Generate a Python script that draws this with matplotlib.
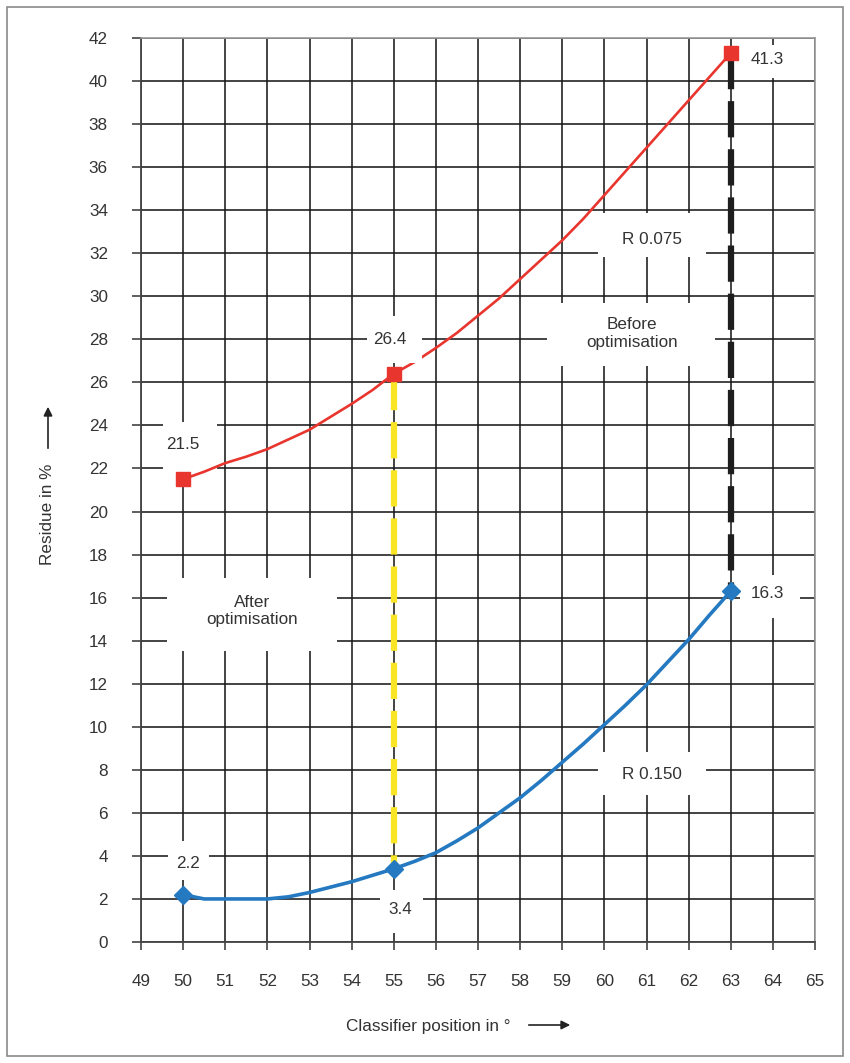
import matplotlib
matplotlib.use("Agg")
import matplotlib.pyplot as plt
from matplotlib.patches import Rectangle, FancyArrowPatch

plt.rcParams['font.family'] = ['Liberation Sans', 'DejaVu Sans']

# Data
x_before = [50, 50.5, 51, 51.5, 52, 52.5, 53, 53.5, 54, 54.5, 55, 55.5, 56, 56.5, 57,
            57.5, 58, 58.5, 59, 59.5, 60, 60.5, 61, 61.5, 62, 62.5, 63]
y_before = [21.5, 21.85, 22.25, 22.55, 22.9, 23.35, 23.8, 24.4, 25.0, 25.65, 26.4, 26.95,
            27.6, 28.3, 29.1, 29.9, 30.8, 31.7, 32.6, 33.6, 34.7, 35.8, 36.9, 38.0, 39.1, 40.2, 41.3]
x_after = [50, 50.5, 51, 51.5, 52, 52.5, 53, 53.5, 54, 54.5, 55, 55.5, 56, 56.5, 57,
           57.5, 58, 58.5, 59, 59.5, 60, 60.5, 61, 61.5, 62, 62.5, 63]
y_after = [2.2, 2.0, 2.0, 2.0, 2.0, 2.1, 2.3, 2.55, 2.8, 3.1, 3.4, 3.75, 4.15, 4.7, 5.3,
           6.0, 6.7, 7.5, 8.35, 9.2, 10.1, 11.0, 11.95, 13.0, 14.05, 15.2, 16.3]
marker_x_before = [50, 55, 63]
marker_y_before = [21.5, 26.4, 41.3]
marker_x_after = [50, 55, 63]
marker_y_after = [2.2, 3.4, 16.3]
x_ticks = list(range(49, 66))
y_ticks = list(range(0, 43, 2))

# annotation texts: (text, x, y, box x0, box x1, box y0, box y1, covers curve)
annotations = [
    ('21.5', 50.0, 23.13, 49.52, 50.80, 21.84, 24.16, False),
    ('2.2', 50.12, 3.67, 49.64, 50.62, 2.88, 4.69, False),
    ('41.3', 63.86, 40.98, 63.21, 64.52, 40.14, 41.67, False),
    ('16.3', 63.86, 16.21, 63.21, 64.65, 15.05, 17.05, False),
    ('R 0.075', 61.13, 32.66, 59.85, 62.41, 31.82, 33.86, False),
    ('R 0.150', 61.13, 7.76, 59.85, 62.41, 6.83, 8.83, False),
    ('Before\noptimisation', 60.65, 28.27, 58.64, 62.63, 26.76, 29.69, False),
    ('After\noptimisation', 51.63, 15.39, 49.62, 53.65, 13.52, 16.91, False),
    ('26.4', 54.9, 28.0, 54.37, 55.67, 26.9, 29.08, True),
    ('3.4', 55.15, 1.53, 54.67, 55.69, 0.42, 2.42, False),
]

RED = '#e8352e'
BLUE = '#2479c0'
YELLOW = '#f9e526'
TXT = '#333333'
FS = 12.3

fig = plt.figure(figsize=(8.5, 10.63), dpi=100)
# outer frame
fig.patches.append(Rectangle((7/850, 1 - 1056/1063), 836/850, 1049/1063,
                             transform=fig.transFigure, fill=False,
                             edgecolor='#8a8a8a', linewidth=1.2))

ax = fig.add_axes([141/850, 1 - 942/1063, 674/850, 904/1063])
ax.set_xlim(49, 65)
ax.set_ylim(0, 42)
ax.set_xticks(x_ticks)
ax.set_yticks(y_ticks)
ax.grid(True, color='#1a1a1a', linewidth=1.15, zorder=1)
ax.set_axisbelow(True)
ax.tick_params(axis='both', direction='out', color='#333333', width=1.1,
               labelsize=FS, labelcolor=TXT)
ax.tick_params(axis='y', length=6.5, pad=17.3)
ax.tick_params(axis='x', length=5.8, pad=17.5)
for s in ['top', 'right']:
    ax.spines[s].set_color('#999999')
    ax.spines[s].set_linewidth(1.2)
for s in ['left', 'bottom']:
    ax.spines[s].set_color('#444444')
    ax.spines[s].set_linewidth(1.3)

# vertical dashed connectors (drawn from top downward)
ax.plot([55, 55], [26.4, 3.4], color=YELLOW, linewidth=4.5, dashes=(5.8, 1.9), zorder=3,
        dash_capstyle='butt')
ax.plot([63, 63], [41.3, 16.3], color='#1e1e1e', linewidth=4.5, dashes=(5.8, 1.9), zorder=3,
        dash_capstyle='butt')

# curves
ax.plot(x_before, y_before, color=RED, linewidth=1.9, zorder=4)
ax.plot(x_after, y_after, color=BLUE, linewidth=2.6, zorder=4)
ax.plot(marker_x_before, marker_y_before, linestyle='none', marker='s', markersize=9.4,
        color=RED, zorder=6)
ax.plot(marker_x_after, marker_y_after, linestyle='none', marker='D', markersize=9.5,
        color=BLUE, zorder=6)

for s, tx, ty, bx0, bx1, by0, by1, covers in annotations:
    ax.add_patch(Rectangle((bx0, by0), bx1 - bx0, by1 - by0, facecolor='white',
                           edgecolor='none', zorder=4.5 if covers else 2))
    ax.text(tx, ty, s, ha='center', va='center', fontsize=FS, color=TXT, zorder=7,
            linespacing=1.2)

# axis labels with arrows
fig.text(48/850, 1 - 514/1063, 'Residue in %', rotation=90, ha='center', va='center',
         fontsize=FS, color=TXT)
fig.patches.append(FancyArrowPatch((48/850, 1 - 451/1063), (48/850, 1 - 404/1063),
                                   transform=fig.transFigure, arrowstyle='-|>',
                                   mutation_scale=13, color='#222222', linewidth=1.2))
fig.text(428/850, 1 - 1027/1063, 'Classifier position in °', ha='center', va='center',
         fontsize=FS, color=TXT)
fig.patches.append(FancyArrowPatch((526/850, 1 - 1025/1063), (573/850, 1 - 1025/1063),
                                   transform=fig.transFigure, arrowstyle='-|>',
                                   mutation_scale=13, color='#222222', linewidth=1.2))

fig.savefig('out.png', dpi=100, facecolor='white')
